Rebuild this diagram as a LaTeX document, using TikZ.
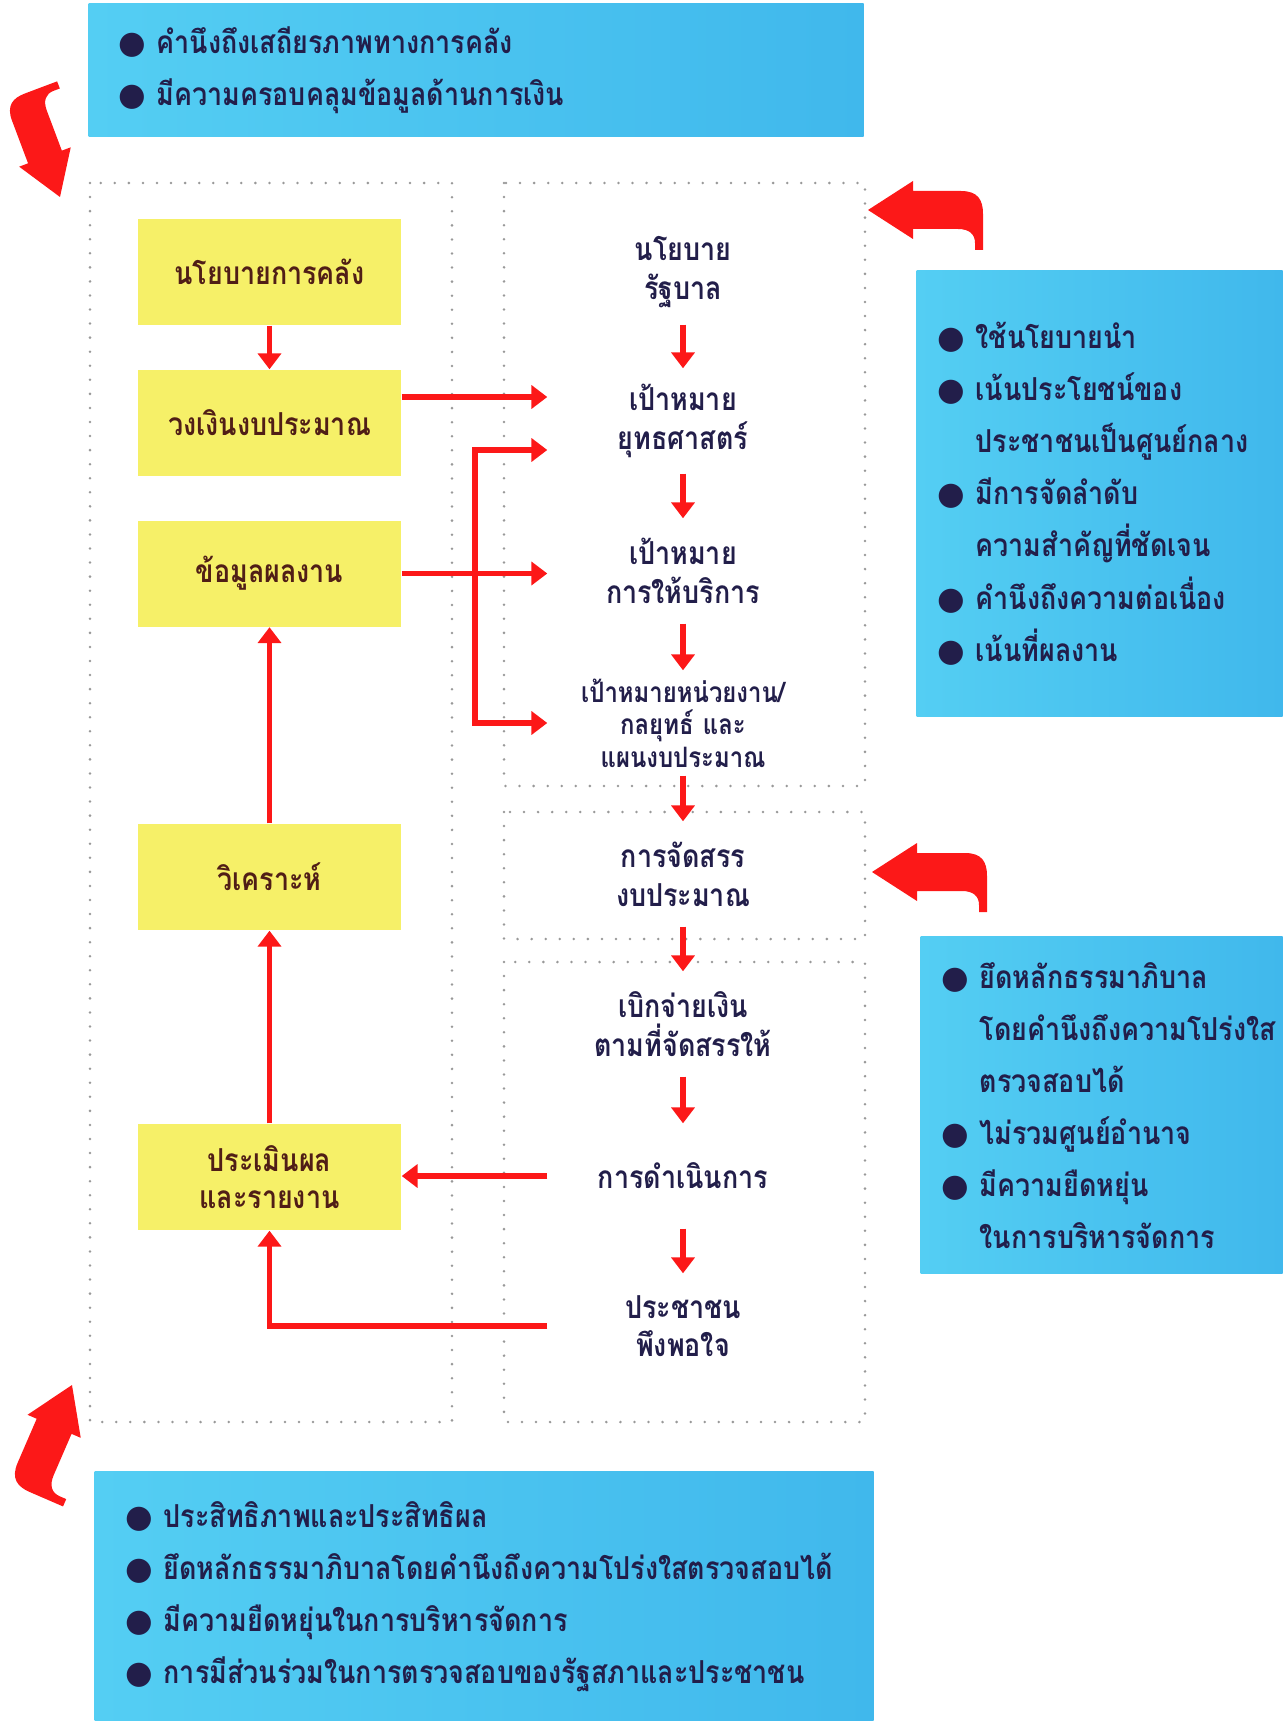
\documentclass[tikz,border=0pt]{standalone}
\usepackage{fontspec}
\usepackage{tikz}
\usepackage{xcolor}
\usetikzlibrary{arrows.meta,positioning,calc}
\newfontfamily\thaifont[Script=Thai,FakeStretch=0.85]{Loma}
\newfontfamily\dotfont{DejaVu Sans}
\definecolor{boxYellow}{RGB}{246,240,104}
\definecolor{skyLight}{RGB}{84,206,243}
\definecolor{skyDeep}{RGB}{64,184,236}
\definecolor{flowRed}{RGB}{252,24,24}
\definecolor{inkNavy}{RGB}{34,30,74}
\definecolor{inkBrown}{RGB}{80,30,22}
\newcommand{\itm}{\makebox[0.38cm][l]{\dotfont ●}}
\newcommand{\cnt}{\hspace*{0.38cm}}

\begin{document}
\begin{tikzpicture}[
    yel/.style={rectangle, fill=boxYellow, minimum width=2.63cm, minimum height=1.06cm, align=center, text=inkBrown, font=\thaifont\bfseries\fontsize{9}{10.3}\selectfont},
    stage/.style={text width=2.7cm, minimum height=1.04cm, inner sep=0pt, align=center, text=inkNavy, font=\thaifont\bfseries\fontsize{9}{11}\selectfont},
    info/.style={rectangle, left color=skyLight, right color=skyDeep, anchor=north west, align=left, inner ysep=0pt, text=inkNavy, font=\thaifont\bfseries\fontsize{9}{14.8}\selectfont},
    dotframe/.style={draw=gray!80, line width=0.8pt, line cap=round, dash pattern=on 0pt off 4pt},
    redtip/.tip={Triangle[width=6.5pt,length=4.5pt]},
    flow/.style={draw=flowRed, line width=1.6pt, -redtip},
    bentarrow/.pic={
        \fill[flowRed] (0,0) -- (0.45,0.29) -- (0.45,0.19) -- (0.93,0.19)
            .. controls (1.10,0.19) and (1.15,0.10) .. (1.15,-0.04) -- (1.15,-0.40)
            -- (1.07,-0.40) -- (1.07,-0.33) .. controls (1.07,-0.24) and (1.01,-0.19) .. (0.90,-0.19)
            -- (0.45,-0.19) -- (0.45,-0.29) -- cycle;
    }
]
\useasboundingbox (0,0) rectangle (12.82,-17.21);

% dotted frames
\draw[dotframe] (0.90,-1.83) rectangle (4.52,-14.22);
\draw[dotframe] (5.04,-1.83) rectangle (8.65,-7.86);
\draw[dotframe] (5.04,-8.12) rectangle (8.65,-9.39);
\draw[dotframe] (5.04,-9.62) rectangle (8.65,-14.22);

% blue notes
\node[info, minimum width=7.75cm, minimum height=1.33cm, text width=7.15cm, inner xsep=0.30cm] (fiscal) at (0.88,-0.03)
    {\itm คำนึงถึงเสถียรภาพทางการคลัง\\\itm มีความครอบคลุมข้อมูลด้านการเงิน};
\node[info, minimum width=3.66cm, minimum height=4.46cm, text width=3.24cm, inner xsep=0.21cm] (policy) at (9.16,-2.70)
    {\itm ใช้นโยบายนำ\\\itm เน้นประโยชน์ของ\\\cnt ประชาชนเป็นศูนย์กลาง\\\itm มีการจัดลำดับ\\\cnt ความสำคัญที่ชัดเจน\\\itm คำนึงถึงความต่อเนื่อง\\\itm เน้นที่ผลงาน};
\node[info, minimum width=3.62cm, minimum height=3.37cm, text width=3.20cm, inner xsep=0.21cm] (govern) at (9.20,-9.36)
    {\itm ยึดหลักธรรมาภิบาล\\\cnt โดยคำนึงถึงความโปร่งใส\\\cnt ตรวจสอบได้\\\itm ไม่รวมศูนย์อำนาจ\\\itm มีความยืดหยุ่น\\\cnt ในการบริหารจัดการ};
\node[info, minimum width=7.79cm, minimum height=2.50cm, text width=7.17cm, inner xsep=0.31cm] (audit) at (0.94,-14.71)
    {\itm ประสิทธิภาพและประสิทธิผล\\\itm ยึดหลักธรรมาภิบาลโดยคำนึงถึงความโปร่งใสตรวจสอบได้\\\itm มีความยืดหยุ่นในการบริหารจัดการ\\\itm การมีส่วนร่วมในการตรวจสอบของรัฐสภาและประชาชน};

% left column
\node[yel] (b1) at (2.695,-2.72) {นโยบายการคลัง};
\node[yel] (b2) at (2.695,-4.23) {วงเงินงบประมาณ};
\node[yel] (b3) at (2.695,-5.735) {ข้อมูลผลงาน};
\node[yel] (b4) at (2.695,-8.77) {วิเคราะห์};
\node[yel] (b5) at (2.695,-11.77) {ประเมินผล\\และรายงาน};

% right column
\node[stage] (gov) at (6.83,-2.72) {นโยบาย\\รัฐบาล};
\node[stage] (strat) at (6.83,-4.21) {เป้าหมาย\\ยุทธศาสตร์};
\node[stage] (serv) at (6.83,-5.71) {เป้าหมาย\\การให้บริการ};
\node[stage, font=\thaifont\bfseries\fontsize{8}{9.2}\selectfont] (unit) at (6.83,-7.23) {เป้าหมายหน่วยงาน/\\กลยุทธ์ และ\\แผนงบประมาณ};
\node[stage] (alloc) at (6.83,-8.74) {การจัดสรร\\งบประมาณ};
\node[stage] (disb) at (6.83,-10.24) {เบิกจ่ายเงิน\\ตามที่จัดสรรให้};
\node[stage] (oper) at (6.83,-11.76) {การดำเนินการ};
\node[stage] (pub) at (6.83,-13.26) {ประชาชน\\พึงพอใจ};

% connectors
\draw[flow] (gov) -- (strat);
\draw[flow] (strat) -- (serv);
\draw[flow] (serv) -- (unit);
\draw[flow] (unit) -- (alloc);
\draw[flow] (alloc) -- (disb);
\draw[flow] (disb) -- (oper);
\draw[flow] (oper) -- (pub);

\draw[flow] (b1) -- (b2);
\draw[flow] ([yshift=0.26cm]b2.east) -- ([yshift=0.26cm]b2.east -| strat.west);
\draw[flow] (b3.east) -- (b3.east -| serv.west);
\draw[flow, redtip-redtip] ([yshift=-0.29cm]strat.west) -- ++(-0.72,0) |- (unit.west);
\draw[flow] (b4) -- (b3);
\draw[flow] (b5) -- (b4);
\draw[flow] (oper.west) -- (oper.west -| b5.east);
\draw[flow] (pub.west) -| (b5.south);

% bent arrows
\pic[rotate=110.6, scale=0.95] at (0.60,-1.97) {bentarrow};
\pic at (8.68,-2.10) {bentarrow};
\pic at (8.72,-8.72) {bentarrow};
\pic[rotate=-113.4, yscale=-1] at (0.72,-13.85) {bentarrow};
\end{tikzpicture}
\end{document}
